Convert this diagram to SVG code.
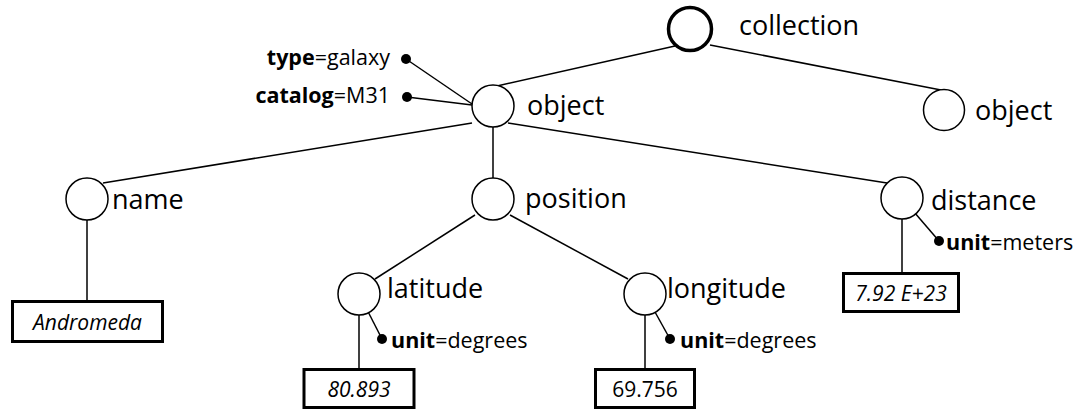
<svg xmlns="http://www.w3.org/2000/svg" width="1076" height="410" viewBox="0 0 1076 410">
  <style>
    .edge { stroke: #000; stroke-width: 1.5; fill: none; }
    .node { fill: #fff; stroke: #000; stroke-width: 1.5; }
    .root { fill: #fff; stroke: #000; stroke-width: 3.5; }
    .dot { fill: #000; }
    .val { fill: #fff; stroke: #000; stroke-width: 3; }
    .label { font-family: "Open Sans", "Liberation Sans", sans-serif; font-size: 27px; fill: #000; }
    .attr { font-family: "Open Sans", "Liberation Sans", sans-serif; font-size: 21.5px; fill: #000; }
    .attr .k { font-weight: bold; }
    .vtext { font-family: "Open Sans", "Liberation Sans", sans-serif; font-size: 21px; fill: #000; text-anchor: middle; }
    .it { font-style: italic; }
  </style>
  <rect width="1076" height="410" fill="#fff"/>

  <g id="connectors">
    <!-- tree edges -->
    <line class="edge" x1="675" y1="46" x2="497" y2="86"/>
    <line class="edge" x1="710" y1="45" x2="941" y2="90"/>
    <line class="edge" x1="472" y1="123" x2="103" y2="183"/>
    <line class="edge" x1="493" y1="127" x2="493" y2="178"/>
    <line class="edge" x1="508" y1="123" x2="887" y2="183"/>
    <line class="edge" x1="475" y1="215" x2="375" y2="279"/>
    <line class="edge" x1="510" y1="215" x2="628" y2="279"/>
    <!-- value links -->
    <line class="edge" x1="87" y1="220" x2="87" y2="301"/>
    <line class="edge" x1="359" y1="315" x2="359" y2="369"/>
    <line class="edge" x1="645" y1="315" x2="645" y2="369"/>
    <line class="edge" x1="902" y1="219" x2="902" y2="273"/>
    <!-- attribute links -->
    <line class="edge" x1="406" y1="59" x2="472" y2="104"/>
    <line class="edge" x1="407" y1="97" x2="472" y2="105"/>
    <line class="edge" x1="359" y1="294" x2="382" y2="339"/>
    <line class="edge" x1="645" y1="294" x2="670" y2="339"/>
    <line class="edge" x1="902" y1="198" x2="939" y2="241"/>
  </g>

  <g id="collection">
    <circle class="root" cx="690" cy="29" r="21.5"/>
    <text class="label" x="739" y="35">collection</text>
  </g>

  <g id="object-2">
    <circle class="node" cx="944" cy="110" r="20.5"/>
    <text class="label" x="975" y="120">object</text>
  </g>

  <g id="object-1">
    <circle class="node" cx="493" cy="106" r="21"/>
    <text class="label" x="527" y="115">object</text>
  </g>

  <g id="attr-type">
    <circle class="dot" cx="406" cy="59" r="5"/>
    <text class="attr" x="390" y="65" text-anchor="end"><tspan class="k">type</tspan>=galaxy</text>
  </g>

  <g id="attr-catalog">
    <circle class="dot" cx="407" cy="97" r="5"/>
    <text class="attr" x="390" y="103" text-anchor="end"><tspan class="k">catalog</tspan>=M31</text>
  </g>

  <g id="name">
    <circle class="node" cx="87" cy="199" r="21"/>
    <text class="label" x="112" y="209">name</text>
  </g>

  <g id="name-value">
    <rect class="val" x="12.5" y="301.5" width="150" height="40"/>
    <text class="vtext it" x="87.5" y="330" font-size="22">Andromeda</text>
  </g>

  <g id="position">
    <circle class="node" cx="493" cy="199" r="21"/>
    <text class="label" x="525" y="208">position</text>
  </g>

  <g id="latitude">
    <circle class="node" cx="359" cy="294" r="21"/>
    <text class="label" x="387" y="298">latitude</text>
  </g>

  <g id="latitude-unit">
    <circle class="dot" cx="382" cy="339" r="5"/>
    <text class="attr" x="391" y="348"><tspan class="k">unit</tspan>=degrees</text>
  </g>

  <g id="latitude-value">
    <rect class="val" x="304" y="369.5" width="110" height="38"/>
    <text class="vtext it" x="359" y="397">80.893</text>
  </g>

  <g id="longitude">
    <circle class="node" cx="645" cy="294" r="21"/>
    <text class="label" x="667" y="298">longitude</text>
  </g>

  <g id="longitude-unit">
    <circle class="dot" cx="670" cy="339" r="5"/>
    <text class="attr" x="680" y="348"><tspan class="k">unit</tspan>=degrees</text>
  </g>

  <g id="longitude-value">
    <rect class="val" x="595.5" y="369.5" width="99" height="38"/>
    <text class="vtext" x="645" y="397">69.756</text>
  </g>

  <g id="distance">
    <circle class="node" cx="902" cy="198" r="21"/>
    <text class="label" x="931" y="210">distance</text>
  </g>

  <g id="distance-unit">
    <circle class="dot" cx="939" cy="241" r="5"/>
    <text class="attr" x="946" y="250"><tspan class="k">unit</tspan>=meters</text>
  </g>

  <g id="distance-value">
    <rect class="val" x="843.5" y="273.5" width="115" height="38"/>
    <text class="vtext it" x="901" y="301">7.92 E+23</text>
  </g>
</svg>
